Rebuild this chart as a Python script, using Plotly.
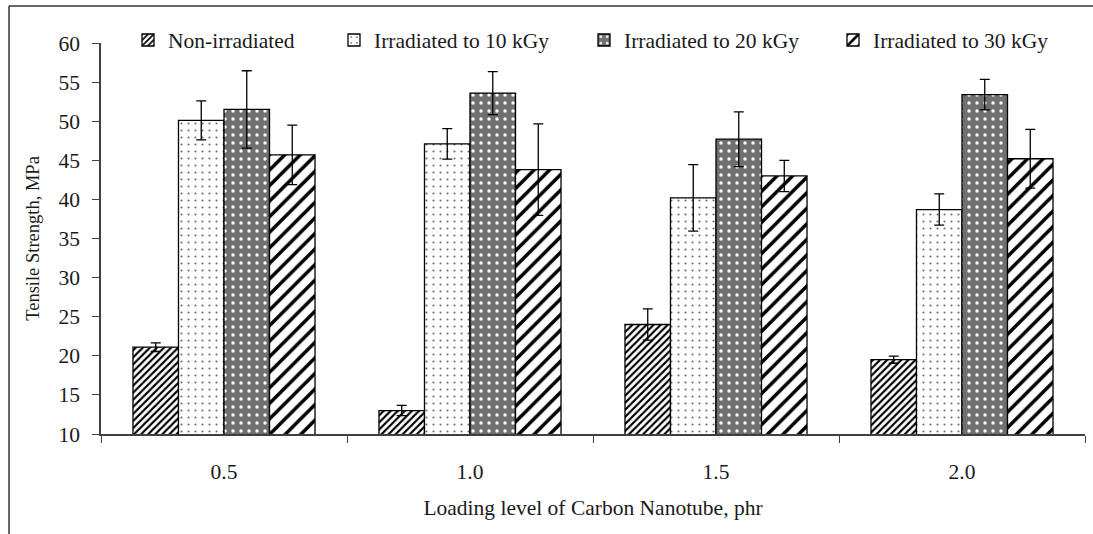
import plotly.graph_objects as go

# Carbon nanotube loading levels (phr)
loading = ["0.5", "1.0", "1.5", "2.0"]

# Tensile strength (MPa) and standard deviations per irradiation dose
non_irradiated = [21.1, 13.0, 24.0, 19.5]
non_irradiated_err = [0.55, 0.65, 2.0, 0.45]

kgy10 = [50.1, 47.1, 40.2, 38.7]
kgy10_err = [2.5, 1.95, 4.25, 2.0]

kgy20 = [51.5, 53.6, 47.7, 53.4]
kgy20_err = [4.95, 2.75, 3.5, 1.95]

kgy30 = [45.7, 43.8, 43.0, 45.2]
kgy30_err = [3.8, 5.85, 2.0, 3.75]

y_ticks = [10, 15, 20, 25, 30, 35, 40, 45, 50, 55, 60]

FONT = "Liberation Serif, Times New Roman, serif"
FS = 21.5
TXT = "#1a1a1a"
W, H = 1093, 534
ML, MR, MT, MB = 101, 8, 43, 100
PW, PH = W - ML - MR, H - MT - MB


def px_x(px):
    return (px - ML) / PW


def px_y(py):
    return (H - MB - py) / PH


series = [
    ("Non-irradiated", non_irradiated, non_irradiated_err,
     dict(shape="/", fgcolor="black", bgcolor="white", fgopacity=1, size=5, solidity=0.42),
     "white", 152),
    ("Irradiated to 10 kGy", kgy10, kgy10_err,
     dict(shape=".", fgcolor="#6a6a6a", bgcolor="white", fgopacity=1, size=7, solidity=0.07),
     "white", 358),
    ("Irradiated to 20 kGy", kgy20, kgy20_err,
     dict(shape=".", fgcolor="white", bgcolor="#6f6f6f", fgopacity=1, size=8, solidity=0.14),
     "#6f6f6f", 608),
    ("Irradiated to 30 kGy", kgy30, kgy30_err,
     dict(shape="/", fgcolor="black", bgcolor="white", fgopacity=1, size=11, solidity=0.32),
     "white", 857),
]

fig = go.Figure()
legend_layout = {}
for i, (name, vals, errs, pattern, col, lx) in enumerate(series):
    lname = "legend" if i == 0 else f"legend{i + 1}"
    fig.add_trace(go.Bar(
        name=name,
        x=loading,
        y=vals,
        marker=dict(color=col, pattern=pattern, line=dict(color="black", width=1.3)),
        error_y=dict(type="data", array=errs, visible=True, color="black",
                     thickness=1.3, width=5),
        legend=lname,
        showlegend=True,
    ))
    legend_layout[lname] = dict(
        x=px_x(lx - 24), y=px_y(40), xanchor="left", yanchor="middle",
        orientation="h", bgcolor="rgba(0,0,0,0)",
        font=dict(family=FONT, size=FS, color=TXT),
        itemwidth=30,
    )

# Outer frame (top and left edges)
frame = [
    dict(type="line", xref="paper", yref="paper",
         x0=px_x(9), x1=px_x(W + 5), y0=px_y(6), y1=px_y(6),
         line=dict(color="#333333", width=1.5)),
    dict(type="line", xref="paper", yref="paper",
         x0=px_x(9), x1=px_x(9), y0=px_y(6), y1=px_y(H + 5),
         line=dict(color="#333333", width=1.5)),
]

fig.update_layout(
    width=W, height=H,
    margin=dict(l=ML, r=MR, t=MT, b=MB),
    paper_bgcolor="white", plot_bgcolor="white",
    barmode="group", bargap=0.26, bargroupgap=0,
    font=dict(family=FONT, size=FS, color=TXT),
    showlegend=True,
    shapes=frame,
    **legend_layout,
)

fig.update_xaxes(
    type="category",
    showline=True, linecolor="#404040", linewidth=1.5,
    ticks="outside", ticklen=7, tickwidth=1.3, tickcolor="#404040",
    tickson="boundaries", ticklabelstandoff=17,
    tickfont=dict(family=FONT, size=FS, color=TXT),
    showgrid=False, zeroline=False,
    title=dict(text="Loading level of Carbon Nanotube, phr",
               font=dict(family=FONT, size=FS, color=TXT), standoff=17),
)

fig.update_yaxes(
    range=[10, 60], tickvals=y_ticks,
    showline=True, linecolor="#404040", linewidth=1.5,
    ticks="outside", ticklen=7, tickwidth=1.3, tickcolor="#404040",
    ticklabelstandoff=8,
    tickfont=dict(family=FONT, size=FS, color=TXT),
    showgrid=False, zeroline=False,
    title=dict(text="Tensile Strength, MPa",
               font=dict(family=FONT, size=18.5, color=TXT), standoff=14),
)

fig.write_html("out.html")
